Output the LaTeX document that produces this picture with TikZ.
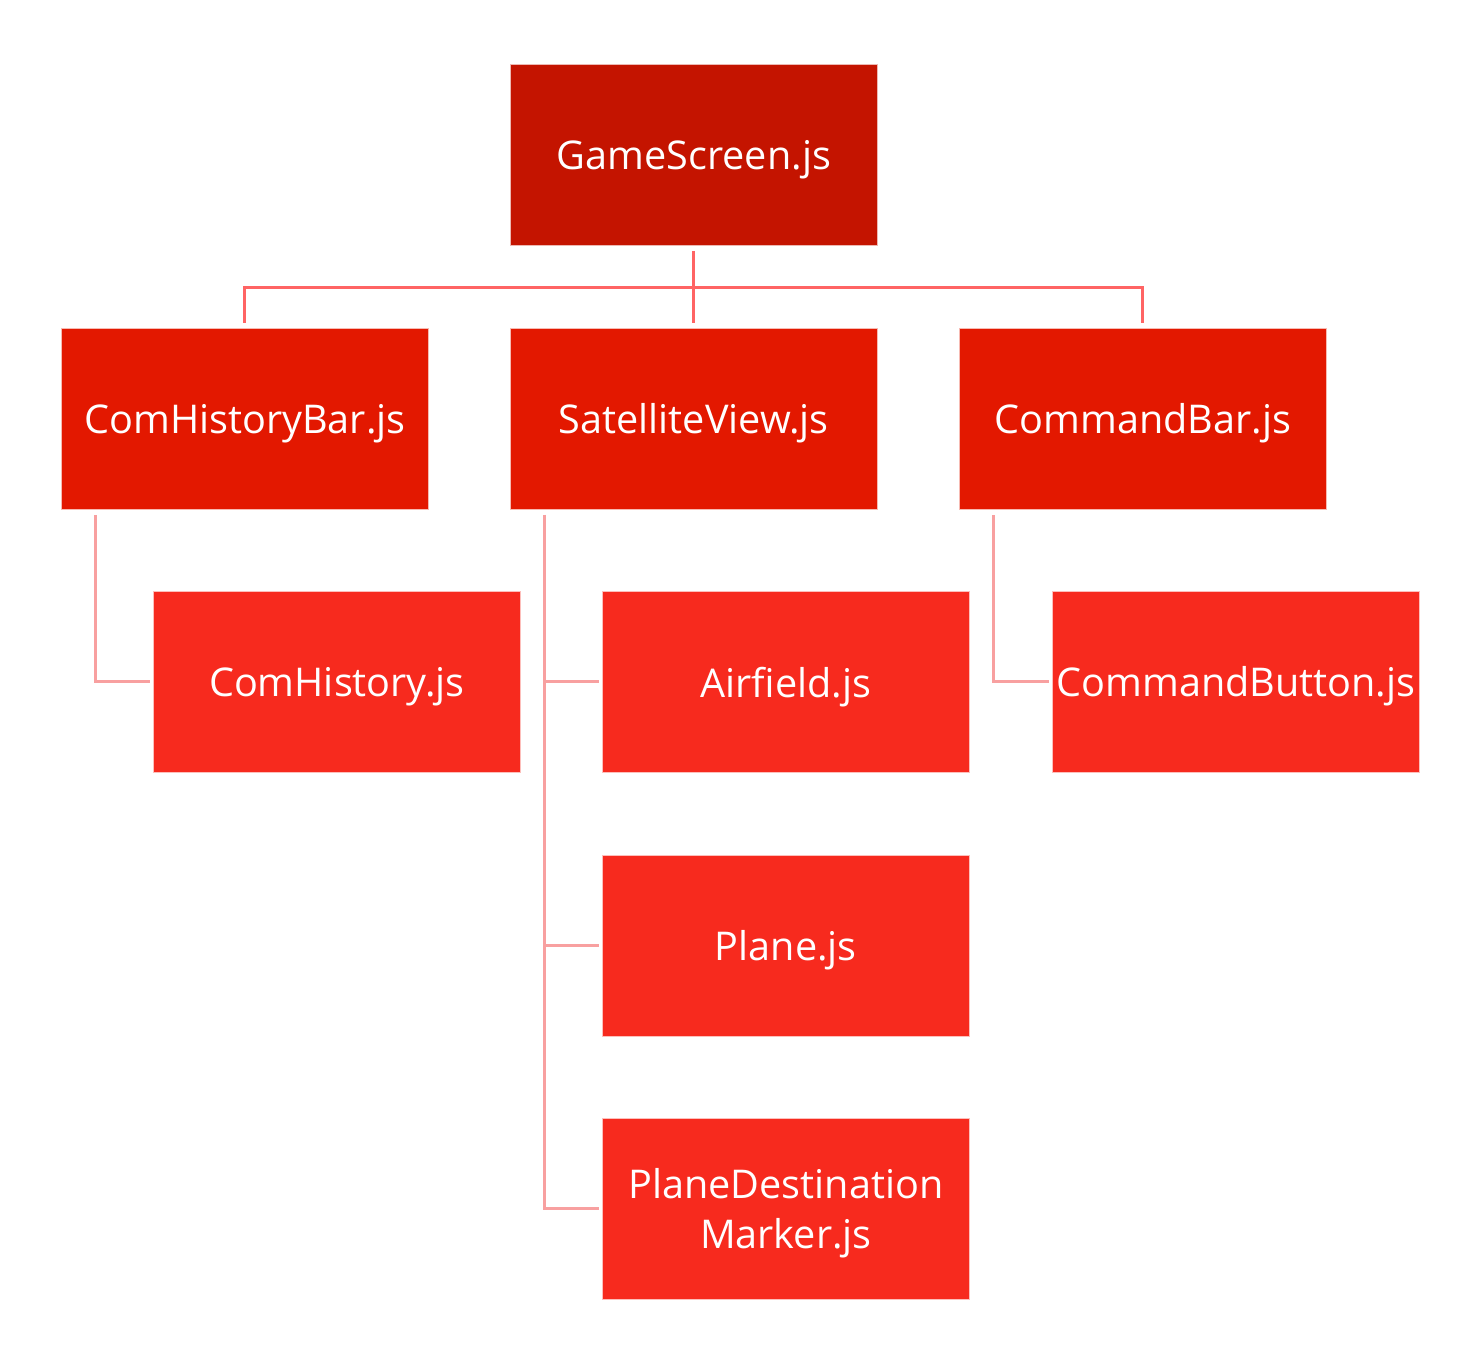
\documentclass[tikz,border=0pt]{standalone}
\usepackage{fontspec}
\setmainfont{Open Sans}
\definecolor{topred}{HTML}{C41400}
\definecolor{midred}{HTML}{E31800}
\definecolor{lowred}{HTML}{F72A1E}
\definecolor{lineA}{HTML}{FF6464}
\definecolor{lineB}{HTML}{F8A0A0}
\begin{document}
\begin{tikzpicture}[x=0.5pt,y=-0.5pt,
  box/.style={draw=white!70!#1,line width=0.4pt,fill=#1,minimum width=183.5pt,minimum height=90.5pt,inner sep=0pt,
    text=white,font=\fontsize{19.8}{25}\selectfont,align=center,anchor=north west,text depth=0pt},
  conA/.style={lineA,line width=1.5pt},
  conB/.style={lineB,line width=1.5pt}]
\useasboundingbox (0,0) rectangle (1480,1358);
\node[box=topred] (gs) at (510,64) {GameScreen.js};
\node[box=midred] (chb) at (61,328) {ComHistoryBar.js};
\node[box=midred] (sv) at (510,328) {SatelliteView.js};
\node[box=midred] (cb) at (959,328) {CommandBar.js};
\node[box=lowred] (ch) at (153,591) {ComHistory.js};
\node[box=lowred] (af) at (602,591) {Airfield.js};
\node[box=lowred] (cbt) at (1052,591) {CommandButton.js};
\node[box=lowred] (pl) at (602,855) {Plane.js};
\node[box=lowred] (pdm) at (602,1118) {PlaneDestination\\Marker.js};
% level 1
\draw[conA] ([yshift=-2.5pt]gs.south) -- ++(0,37) coordinate (j);
\draw[conA] ([yshift=2.5pt]chb.north) |- (j) -| ([yshift=2.5pt]cb.north);
\draw[conA] (j) -- ([yshift=2.5pt]sv.north);
% level 2
\draw[conB] ([xshift=17.25pt,yshift=-2.5pt]chb.south west) |- ([xshift=-1.5pt]ch.west);
\draw[conB] ([xshift=17.25pt,yshift=-2.5pt]cb.south west) |- ([xshift=-1.5pt]cbt.west);
\draw[conB] ([xshift=17.25pt,yshift=-2.5pt]sv.south west) |- ([xshift=-1.5pt]pdm.west);
\draw[conB] ([xshift=17.25pt,yshift=-2.5pt]sv.south west) |- ([xshift=-1.5pt]af.west);
\draw[conB] ([xshift=17.25pt,yshift=-2.5pt]sv.south west) |- ([xshift=-1.5pt]pl.west);
\end{tikzpicture}
\end{document}
